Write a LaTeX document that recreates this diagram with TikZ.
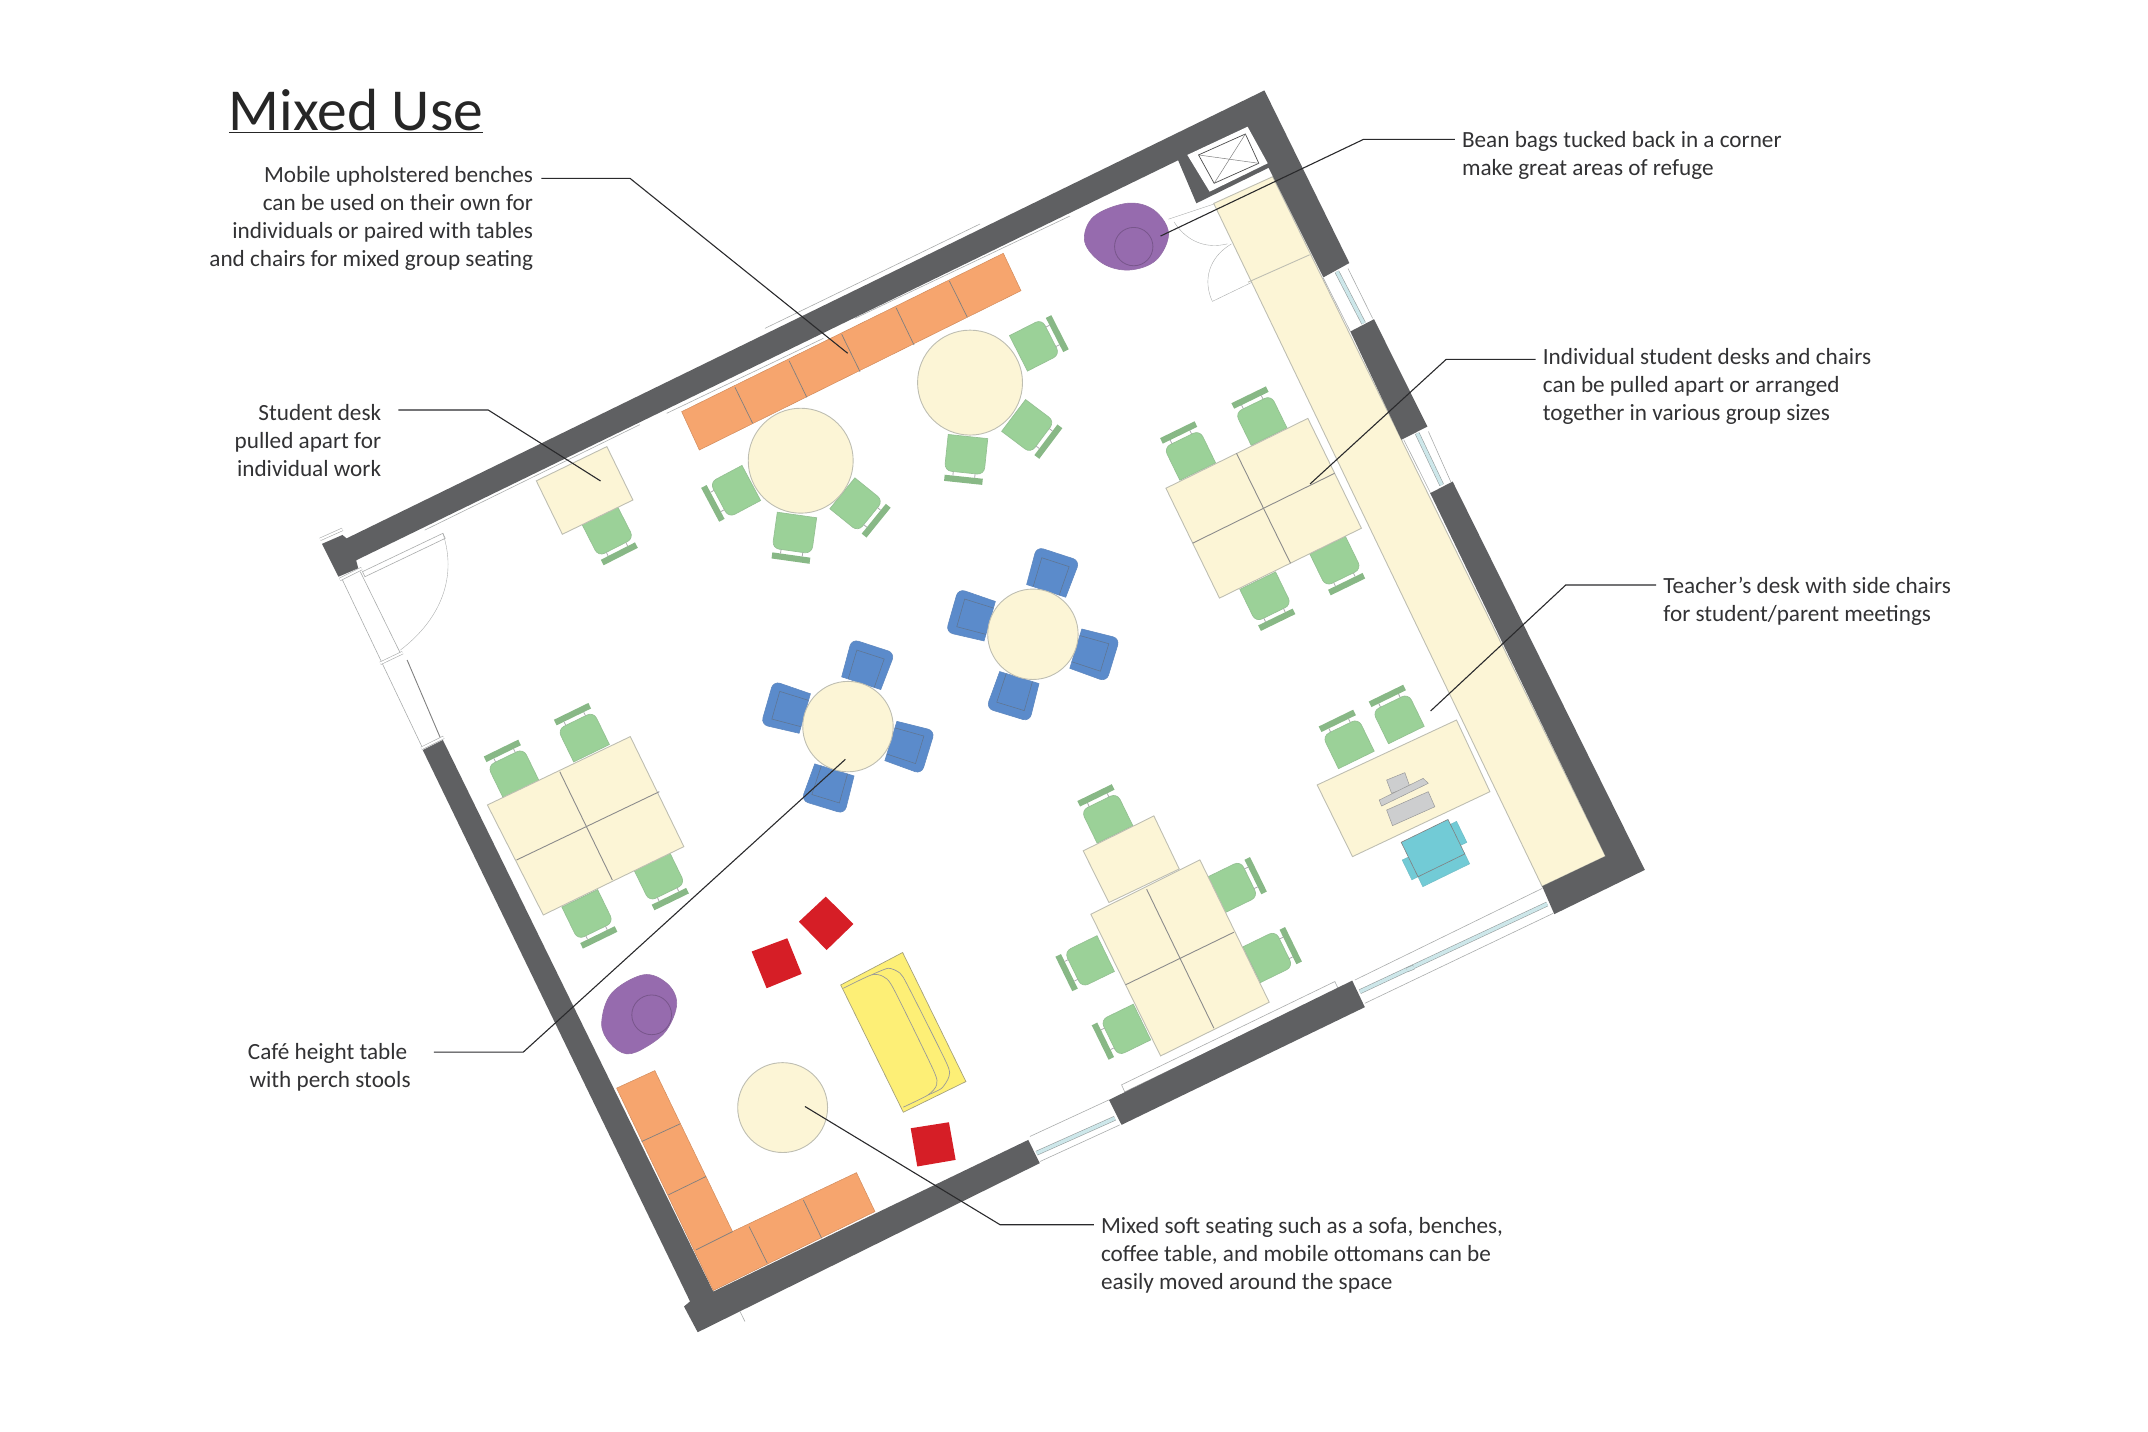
\documentclass[tikz,border=0pt]{standalone}
\usepackage{fontspec}
\setmainfont{Carlito}
\usetikzlibrary{positioning}
\definecolor{walldark}{RGB}{95,96,98}
\definecolor{deskcream}{RGB}{252,245,214}
\definecolor{deskedge}{RGB}{190,190,178}
\definecolor{seatgreen}{RGB}{155,209,152}
\definecolor{seatblue}{RGB}{91,139,203}
\definecolor{benchorange}{RGB}{246,165,110}
\definecolor{bagpurple}{RGB}{150,107,174}
\definecolor{ottomanred}{RGB}{214,30,38}
\definecolor{sofayellow}{RGB}{253,239,118}
\definecolor{seatteal}{RGB}{114,203,214}
\definecolor{glassblue}{RGB}{205,231,234}
\definecolor{thingray}{RGB}{170,172,172}
\definecolor{itemgray}{RGB}{205,206,207}
\definecolor{notetext}{RGB}{50,50,52}

\begin{document}
\begin{tikzpicture}[
        x=1.36990pt, y=-1.36990pt,
        wall/.style={fill=walldark},
        desk/.style={draw=deskedge, fill=deskcream, line width=0.9pt},
        deskline/.style={draw=gray!90, line width=0.9pt},
        bench/.style={draw=benchorange!85!black, fill=benchorange, line width=0.5pt},
        benchline/.style={draw=gray, line width=0.7pt},
        ottoman/.style={fill=ottomanred},
        bag/.style={draw=bagpurple!85!gray, fill=bagpurple, line width=0.6pt},
        thin wall/.style={draw=thingray, line width=0.6pt},
        jamb/.style={draw=thingray, double=white, double distance=2pt, line width=0.6pt},
        glass/.style={draw=gray!70!glassblue, double=glassblue, double distance=3.5pt, line width=0.6pt},
        leader/.style={draw=notetext!85!black, line width=1.1pt},
        note/.style={font=\fontsize{23.2}{28}\selectfont, text=notetext, inner xsep=7pt, inner ysep=0pt},
        greenchair/.pic={
            \draw[seatgreen!80!gray, fill=seatgreen, line width=0.7pt] (-14.5,-13.5) -- (14.5,-13.5) [rounded corners=7pt] -- (14.5,13) -- (-14.5,13) [sharp corners] -- cycle;
            \fill[seatgreen!88!black] (-14,16) rectangle (14,20.5);
            \draw[thingray, line width=0.8pt] (-8,13) -- (-8,16) (8,13) -- (8,16);
        },
        bluestool/.pic={
            \draw[seatblue!85!gray, fill=seatblue, line width=0.6pt] (-15,-14) -- (15,-14) [rounded corners=7pt] -- (16.5,14.5) -- (-16.5,14.5) [sharp corners] -- cycle;
            \draw[seatblue!60!black!80, line width=0.6pt] (-10,-14) -- (-10.5,8) -- (10.5,8) -- (10,-14);
        },
        tealchair/.pic={
            \draw[seatteal!85!gray, fill=seatteal, line width=0.6pt] (-19,12) rectangle (19,21);
            \draw[seatteal!85!gray, fill=seatteal, line width=0.6pt] (18,-11) rectangle (24,6);
            \draw[seatteal!85!gray, fill=seatteal, line width=0.6pt] (-24,-3) rectangle (-18,13);
            \draw[gray, fill=seatteal, line width=0.6pt] (-19,-15) rectangle (19,13);
        }
    ]
    \useasboundingbox (0,0) rectangle (1568,1045.33);

    % counter along the right wall
    \draw[desk] (886,148.5) -- (929,129) -- (1172,625) -- (1125.7,647) -- cycle;
    \draw[deskline, draw=deskedge] (911,206) -- (956,186);

    % thin lines beside the walls
    \draw[thin wall] (310,387) -- (467,310);
    \draw[thin wall] (486.7,301.7) -- (601,247);
    \draw[thin wall] (624.1,232.4) -- (781,157.7);
    \draw[thin wall] (558.4,239.7) -- (715.4,163.5);
    \draw[thin wall, fill=white] (818.7,791.9) -- (974.4,716.5) -- (977,722) -- (821,797) -- cycle;
    \draw[thin wall] (540.2,957.4) -- (543.8,964.7);

    % doors
    \draw[thin wall, fill=white] (264.6,417.3) -- (323.3,389.3) -- (325,393) -- (266.4,421) -- cycle;
    \draw[thin wall, line width=0.4pt] (323.3,389.3) .. controls (335,425) and (318,455) .. (292.3,474.5);
    \draw[thin wall] (250,423.4) -- (308.6,546.3);
    \draw[thin wall] (263,417.3) -- (292.3,476.9);
    \draw[draw=gray, line width=0.9pt] (297.2,481.8) -- (321.6,539);
    \draw[jamb] (233.7,393.7) -- (250,386.4);
    \draw[jamb] (248,423) -- (264,415);
    \draw[jamb] (277.6,484.2) -- (293.9,476.4);
    \draw[jamb] (307.6,546.3) -- (323.9,538.2);
    \draw[thin wall, line width=0.4pt] (853,160) -- (886,149);
    \draw[thin wall, line width=0.4pt] (857,162) .. controls (866,176) and (880,182) .. (896,178);
    \draw[thin wall, line width=0.4pt] (885,220) -- (914,206);
    \draw[thin wall, line width=0.4pt] (885,220) .. controls (878,205) and (882,188) .. (899,178);

    % windows
    \draw[glass] (975.9,198.3) -- (995.4,236);
    \draw[thin wall] (984,196) -- (1002,232.4);
    \draw[thin wall] (966,203) -- (985.7,242);
    \draw[glass] (1034.5,316.3) -- (1052.4,354);
    \draw[thin wall] (1042.7,315) -- (1059,351.6);
    \draw[thin wall] (1024.7,321) -- (1044.3,360);
    \draw[glass] (992.7,723.9) -- (1129.4,659.9);
    \draw[thin wall] (989,715.4) -- (1125.8,648.5);
    \draw[thin wall] (996.3,732.4) -- (1133.8,666.7);
    \draw[glass] (1027,708) -- (1032,706);
    \draw[glass] (756.7,841.8) -- (813.8,816.3);
    \draw[thin wall] (751.8,829.6) -- (809.5,802.9);
    \draw[thin wall] (759.1,847.9) -- (817.5,821.1);

    % walls
    \fill[wall] (235,397) -- (250,390.5) -- (253,393) -- (923,66) -- (985,192) -- (966,202.5) -- (926,122.5) -- (873.3,148.4) -- (860,117) -- (260,409) -- (261.5,414.8) -- (247,421) -- cycle;
    \fill[white] (866.7,113.1) -- (910.7,92.5) -- (925.4,119.2) -- (883,139.9) -- cycle;
    \draw[draw=black!70, line width=0.7pt] (874.9,113.1) -- (909.1,97.8) -- (918.9,119.2) -- (886.3,133.8) -- cycle;
    \draw[draw=gray, line width=0.5pt] (874.9,113.1) -- (918.9,119.2) (909.1,97.8) -- (886.3,133.8);
    \fill[wall] (985.7,242) -- (1003,233) -- (1042,311.4) -- (1023,321) -- cycle;
    \fill[wall] (1044,360) -- (1060.4,351.5) -- (1200.7,635) -- (1134.6,667.3) -- (1125.7,647) -- (1172,625) -- cycle;
    \fill[wall] (809.5,802.9) -- (987.1,715.8) -- (996.3,735.2) -- (818.7,821.1) -- cycle;
    \fill[wall] (308.6,547.5) -- (323.3,540.2) -- (520.7,942.8) -- (750.6,832.1) -- (759,849.1) -- (509.3,972.5) -- (499.3,953.7) -- (503.7,950) -- cycle;

    % benches
    \draw[bench] (497.6,300.5) -- (732.4,184.9) -- (745.3,212.2) -- (510.5,328.5) -- cycle;
    \foreach \ax/\ay/\bx/\by in {536.5/282.7/549.4/309, 576/263.3/588.9/290, 614.4/244/627.8/271.3, 654.1/224.6/667.2/251.8, 693/205.1/706.1/231.6}
        \draw[benchline] (\ax,\ay) -- (\bx,\by);
    \draw[bench] (450.1,794.3) -- (478,781.5) -- (534.7,899) -- (625.2,856) -- (638.7,884.4) -- (520.7,942) -- cycle;
    \foreach \ax/\ay/\bx/\by in {468.4/833.3/496.4/820.4, 487.9/872.2/515.4/858.8, 508/912.4/534.8/899, 546.8/895.3/560.1/922.1, 586.4/875.9/599.8/903.9}
        \draw[benchline] (\ax,\ay) -- (\bx,\by);

    % student desk and round tables with their chairs
    \pic[rotate=27] at (443.8,388) {greenchair};
    \draw[desk] (391.5,351) -- (443,326) -- (462,365) -- (410.5,390) -- cycle;
    \pic[rotate=-62] at (536.5,358.9) {greenchair};
    \pic[rotate=-8] at (579.9,389.3) {greenchair};
    \pic[rotate=51] at (625.4,368.6) {greenchair};
    \pic[rotate=117] at (755.5,251.8) {greenchair};
    \pic[rotate=53] at (750.7,311.4) {greenchair};
    \pic[rotate=-6] at (705.2,332.1) {greenchair};
    \draw[desk] (584.5,336.3) circle (38.3);
    \draw[desk] (708.1,279.3) circle (38.3);

    % cafe tables with stools
    \foreach \cx/\cy in {619/530.4, 754/463} {
        \pic[rotate=162] at (\cx+14,\cy-45) {bluestool};
        \pic[rotate=-106] at (\cx-45,\cy-13.4) {bluestool};
        \pic[rotate=73] at (\cx+44.7,\cy+14.6) {bluestool};
        \pic[rotate=-17] at (\cx-14,\cy+45) {bluestool};
        \draw[desk] (\cx,\cy) circle (33);
    }

    % desks, upper right
    \pic[rotate=206] at (868.4,332.1) {greenchair};
    \pic[rotate=206] at (920.5,306.6) {greenchair};
    \pic[rotate=26] at (924,436) {greenchair};
    \pic[rotate=26] at (975,410) {greenchair};
    \draw[desk] (851.1,356.4) -- (954.7,305.4) -- (993.8,385.6) -- (890.2,436.6) -- cycle;
    \draw[deskline] (902.6,330.9) -- (942,411.1);
    \draw[deskline] (870.6,396.5) -- (974.2,345.5);

    % desks, left
    \pic[rotate=206] at (374.7,564.5) {greenchair};
    \pic[rotate=206] at (425.9,537.7) {greenchair};
    \pic[rotate=26] at (481.3,639.9) {greenchair};
    \pic[rotate=26] at (429.1,667.9) {greenchair};
    \draw[desk] (355.8,587.6) -- (460.1,537.7) -- (499.2,618) -- (396.6,667.9) -- cycle;
    \draw[deskline] (408.6,563.3) -- (447,642.4);
    \draw[deskline] (377,627.8) -- (481.3,577.9);

    % desks, lower right
    \pic[rotate=206] at (808,597) {greenchair};
    \pic[rotate=116] at (900.2,647.2) {greenchair};
    \pic[rotate=116] at (925.8,698.3) {greenchair};
    \pic[rotate=-64] at (795,702) {greenchair};
    \pic[rotate=-64] at (821.5,752) {greenchair};
    \draw[desk] (790.7,621.1) -- (842.3,595.6) -- (860.8,634.3) -- (809.5,658.8) -- cycle;
    \draw[desk] (796.3,667.4) -- (875.9,627.7) -- (926.5,731.6) -- (847.2,770.8) -- cycle;
    \draw[deskline] (837,649.1) -- (886.1,750.6);
    \draw[deskline] (821.6,718.9) -- (900.7,680.5);

    % teacher's desk
    \pic[rotate=206] at (1020.7,524.4) {greenchair};
    \pic[rotate=206] at (984.2,542.6) {greenchair};
    \pic[rotate=26] at (1046.5,620) {tealchair};
    \draw[desk] (961.5,573) -- (1063.2,525.6) -- (1087.6,577.9) -- (987.3,625.3) -- cycle;
    \draw[gray!80, fill=itemgray, line width=0.5pt] (1012.2,569.4) -- (1025.5,564) -- (1029.2,574.3) -- (1015.8,579.1) -- cycle;
    \draw[gray!80, fill=itemgray, line width=0.5pt] (1006.8,584) -- (1038.9,568.2) -- (1042.6,571.8) -- (1008.5,588.4) -- cycle;
    \draw[gray!80, fill=itemgray, line width=0.5pt] (1012.2,591.3) -- (1042.6,577.9) -- (1047.4,588.9) -- (1016.5,602.7) -- cycle;

    % bean bags
    \draw[bag] plot[smooth cycle, tension=0.6] coordinates {(822.8,148.4) (842.3,153.3) (853,170.3) (844,189.8) (824.4,197.1) (804.8,192.2) (791.8,176.4) (798.3,158.2)};
    \draw[bag, draw=black!20!bagpurple, line width=0.8pt] (827.6,180) circle (14);
    \draw[bag] plot[smooth cycle, tension=0.6] coordinates {(469.6,711.6) (486.7,717.7) (494,732.3) (486.7,751.8) (472,764) (457.5,769.3) (445.3,761.5) (439.2,746.9) (446.5,725)};
    \draw[bag, draw=black!20!bagpurple, line width=0.8pt] (475.7,740.8) circle (14.5);

    % soft seating
    \fill[ottoman] (602.8,654.5) -- (623,674.5) -- (603.4,693.5) -- (583.2,672.8) -- cycle;
    \fill[ottoman] (548.7,694.6) -- (574.7,684.9) -- (585.2,710.9) -- (559.6,721.4) -- cycle;
    \fill[ottoman] (664.8,823.6) -- (692.7,819.2) -- (697.6,846.7) -- (669.6,851.5) -- cycle;
    \draw[draw=gray!70!sofayellow, fill=sofayellow, line width=0.7pt] (613.7,719) -- (658.9,695.3) -- (705.1,789.5) -- (659.4,811.9) -- cycle;
    \draw[draw=gray!80, line width=0.7pt] plot[smooth, tension=0.4] coordinates {(615.6,721.4) (636.3,711.6) (644.8,712.9) (652.1,721.4) (681.3,781) (683.7,791.9) (677.6,799.2) (659.4,808.2)};
    \draw[draw=gray!80, line width=0.7pt] plot[smooth, tension=0.4] coordinates {(636.3,711.6) (648.5,706.8) (657,710.4) (663,720.2) (691,776.1) (692.7,785.9) (687.4,794.4) (677.6,799.2)};
    \draw[desk] (571.3,808.5) circle (32.8);

    % title
    \node[font=\fontsize{59.5}{64}\selectfont, text=black!85, inner sep=0pt, anchor=base west] (title) at (167,95) {\underline{Mixed Use}};

    % notes
    \node[note, align=right, anchor=north east] (mobilenote) at (394.4,121.5) {Mobile upholstered benches\hspace{5pt}\\can be used on their own for\hspace{5pt}\\individuals or paired with tables\\and chairs for mixed group seating};
    \node[note, align=right, anchor=north east] (studentnote) at (283.5,295) {Student desk\\pulled apart for\\individual work};
    \node[note, align=center, anchor=north east] (cafenote) at (305,761.5) {Café height table\\\hspace{5pt}with perch stools};
    \node[note, align=left, anchor=north west] (mixednote) at (798.5,888.5) {Mixed soft seating such as a sofa, benches,\\coffee table, and mobile ottomans can be\\easily moved around the space};
    \node[note, align=left, anchor=north west] (beannote) at (1062,95.5) {Bean bags tucked back in a corner\\make great areas of refuge};
    \node[note, align=left, anchor=north west] (individualnote) at (1121,254.5) {Individual student desks and chairs\\can be pulled apart or arranged\\together in various group sizes};
    \node[note, align=left, anchor=north west] (teachernote) at (1209,421.5) {Teacher's desk with side chairs\\for student/parent meetings};

    % leaders
    \coordinate (mobilebend) at (459.9,130.2);
    \coordinate (mobileend) at (618.8,257.9);
    \coordinate (studentbend) at (356.4,299.3);
    \coordinate (studentend) at (438.4,351.1);
    \coordinate (cafebend) at (382,768);
    \coordinate (cafeend) at (617.1,554.3);
    \coordinate (mixedbend) at (730,894);
    \coordinate (mixedend) at (587.6,807.7);
    \coordinate (beanbend) at (995.4,101.7);
    \coordinate (beanend) at (847.2,172.3);
    \coordinate (individualbend) at (1055.7,262.3);
    \coordinate (individualend) at (956.3,353.3);
    \coordinate (teacherbend) at (1143,427);
    \coordinate (teacherend) at (1044.3,519);
    \draw[leader] ([xshift=1pt]mobilenote.east |- mobilebend) -- (mobilebend) -- (mobileend);
    \draw[leader] ([xshift=10pt]studentnote.east |- studentbend) -- (studentbend) -- (studentend);
    \draw[leader] ([xshift=16pt]cafenote.east |- cafebend) -- (cafebend) -- (cafeend);
    \draw[leader] (mixednote.west |- mixedbend) -- (mixedbend) -- (mixedend);
    \draw[leader] (beannote.west |- beanbend) -- (beanbend) -- (beanend);
    \draw[leader] (individualnote.west |- individualbend) -- (individualbend) -- (individualend);
    \draw[leader] (teachernote.west |- teacherbend) -- (teacherbend) -- (teacherend);
\end{tikzpicture}
\end{document}
